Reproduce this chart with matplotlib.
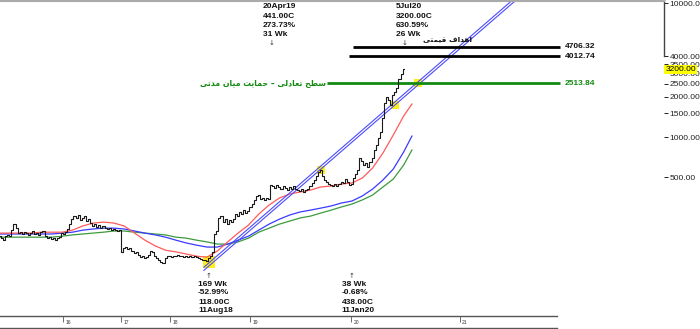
import numpy as np
import matplotlib
matplotlib.use('Agg')
import matplotlib.pyplot as plt
import matplotlib.transforms as mtransforms
from matplotlib.lines import Line2D

plt.rcParams['font.family'] = ['Liberation Sans', 'DejaVu Sans']

# ---------------- data ----------------
close = [182, 176, 170, 182, 186, 182, 202, 224, 209, 192,
         195, 189, 195, 192, 186, 192, 199, 189, 192, 186,
         195, 199, 182, 176, 179, 173, 176, 170, 176, 179,
         192, 189, 195, 206, 224, 244, 257, 249, 262, 240,
         249, 257, 236, 244, 228, 217, 224, 213, 220, 209,
         217, 209, 206, 209, 202, 206, 202, 199, 202, 139,
         148, 151, 146, 148, 141, 136, 139, 132, 127, 129,
         125, 127, 132, 141, 139, 129, 125, 121, 117, 115,
         125, 129, 129, 127, 129, 129, 132, 129, 129, 127,
         129, 127, 129, 127, 129, 127, 125, 123, 121, 120,
         118, 125, 130, 139, 189, 199, 249, 257, 232, 244,
         224, 240, 232, 244, 266, 257, 276, 266, 285, 271,
         280, 301, 316, 339, 363, 369, 345, 351, 339, 351,
         345, 441, 431, 416, 438, 424, 409, 431, 416, 402,
         424, 409, 431, 409, 402, 395, 409, 389, 402, 409,
         431, 454, 478, 512, 548, 567, 512, 478, 462, 446,
         438, 431, 446, 431, 446, 462, 454, 486, 462, 438,
         446, 494, 530, 567, 697, 662, 618, 640, 597, 651,
         697, 800, 871, 983, 1090, 1387, 1794, 1991, 1888, 1734,
         2059, 2167, 2320, 2706, 2953, 3200]

ma_idx = list(range(0, 196, 5)) + [199]
ma_red = [192, 192, 192, 192, 195, 195, 195, 202, 217, 228,
          232, 228, 217, 192, 170, 154, 143, 139, 134, 129,
          127, 141, 165, 192, 220, 266, 311, 351, 376, 389,
          402, 424, 431, 446, 454, 494, 587, 760, 1035, 1435, 1763]
ma_blue = [189, 189, 189, 189, 189, 189, 192, 195, 202, 206,
           209, 209, 206, 199, 192, 186, 179, 170, 162, 156,
           151, 151, 159, 170, 182, 202, 224, 244, 262, 276,
           285, 295, 306, 322, 333, 363, 409, 478, 577, 773, 1017]
ma_green = [179, 179, 179, 179, 179, 179, 182, 186, 189, 192,
            195, 199, 199, 195, 192, 189, 186, 179, 176, 170,
            165, 159, 159, 165, 176, 195, 209, 224, 236, 249,
            257, 271, 285, 301, 316, 339, 369, 424, 486, 618, 800]

year_pos = [30.5, 58.5, 82, 121, 169.5, 222]
year_lbl = ['16', '17', '18', '19', '20', '21']

target_levels = [4706.32, 4012.74]
target_start = [170.5, 168.6]
support_level = 2513.84
support_start = 158
level_end = 270.5

trend_idx = [100, 202]
trend_price = [106, 2450]
trend_gap = 1.055

hl_idx = [101, 155, 191, 202]
hl_price = [116, 567, 1734, 2514]

right_ticks = [500, 1000, 1500, 2000, 2500, 3000, 3500, 4000, 10000]
last_price = 3200.0

top_notes = [(131.4, ['20Apr19', '441.00C', '273.73%', '31 Wk']),
             (195.6, ['5Jul20', '3200.00C', '630.59%', '26 Wk'])]
bottom_notes = [(100.5, ['169 Wk', '-52.99%', '118.00C', '11Aug18']),
                (170.0, ['38 Wk', '-0.68%', '438.00C', '11Jan20'])]

txt_targets = 'اهداف قیمتی'
txt_support = 'سطح تعادلی – حمایت میان مدتی'

# ---------------- Persian shaping helper ----------------
FORMS = {
    'ا': ('\uFE8D', '\uFE8E', None, None),
    'د': ('\uFEA9', '\uFEAA', None, None),
    'ه': ('\uFEE9', '\uFEEA', '\uFEEB', '\uFEEC'),
    'ف': ('\uFED1', '\uFED2', '\uFED3', '\uFED4'),
    'ق': ('\uFED5', '\uFED6', '\uFED7', '\uFED8'),
    'ی': ('\uFBFC', '\uFBFD', '\uFBFE', '\uFBFF'),
    'م': ('\uFEE1', '\uFEE2', '\uFEE3', '\uFEE4'),
    'ت': ('\uFE95', '\uFE96', '\uFE97', '\uFE98'),
    'س': ('\uFEB1', '\uFEB2', '\uFEB3', '\uFEB4'),
    'ط': ('\uFEC1', '\uFEC2', '\uFEC3', '\uFEC4'),
    'ح': ('\uFEA1', '\uFEA2', '\uFEA3', '\uFEA4'),
    'ع': ('\uFEC9', '\uFECA', '\uFECB', '\uFECC'),
    'ل': ('\uFEDD', '\uFEDE', '\uFEDF', '\uFEE0'),
    'ن': ('\uFEE5', '\uFEE6', '\uFEE7', '\uFEE8'),
}


def shape_fa(s):
    out = []
    n = len(s)
    for k, c in enumerate(s):
        if c not in FORMS:
            out.append(c)
            continue
        iso, fin, ini, med = FORMS[c]
        p = s[k - 1] if k > 0 else ''
        nx = s[k + 1] if k + 1 < n else ''
        pj = p in FORMS and FORMS[p][2] is not None
        nj = nx in FORMS and ini is not None
        if pj and nj:
            out.append(med)
        elif pj:
            out.append(fin)
        elif nj:
            out.append(ini)
        else:
            out.append(iso)
    return ''.join(reversed(out))


# ---------------- figure ----------------
W, H = 700, 329
fig = plt.figure(figsize=(7, 3.29), dpi=100)
ax = fig.add_axes([0, 13 / H, 664 / W, 316 / H])
ax.set_yscale('log')
ax.set_ylim(46.2, 10530)
ax.set_xlim(0, 664 / 2.07)
ax.patch.set_alpha(0)

for s in ['left', 'top']:
    ax.spines[s].set_visible(False)
ax.spines['right'].set_bounds(4000, 10530)
ax.spines['right'].set_color('#444444')
ax.spines['right'].set_linewidth(1.0)
ax.spines['bottom'].set_bounds(0, 557 / 2.07)
ax.spines['bottom'].set_color('#555555')
ax.spines['bottom'].set_linewidth(1.0)

ax.yaxis.tick_right()
ax.yaxis.set_minor_locator(matplotlib.ticker.NullLocator())
ax.set_yticks(right_ticks)
ax.set_yticklabels([f'{v:.2f}' for v in right_ticks])
ax.tick_params(axis='y', length=3, width=0.7, pad=1, labelsize=6,
               colors='#222222')

ax.set_xticks(year_pos)
ax.set_xticklabels([])
ax.tick_params(axis='x', length=4, width=0.6, colors='#555555')
xtr = ax.get_xaxis_transform()
for p, l in zip(year_pos, year_lbl):
    ax.text(p + 1.2, -0.022, l, transform=xtr, fontsize=3.6,
            ha='left', va='center', color='#333333')

# yellow highlights
ax.scatter(hl_idx[:1], hl_price[:1], marker='s', s=70, color='#ffee00',
           alpha=0.9, linewidths=0, zorder=1)
ax.scatter(hl_idx[1:], hl_price[1:], marker='s', s=40, color='#ffee00',
           alpha=0.9, linewidths=0, zorder=1)

# moving averages
ax.plot(ma_idx, ma_green, color='#3c9a3c', lw=0.9, zorder=2)
ax.plot(ma_idx, ma_blue, color='#3a3aff', lw=0.9, zorder=2)
ax.plot(ma_idx, ma_red, color='#ff5a5a', lw=0.9, zorder=2)

# price
bars = np.arange(len(close))
ax.plot(bars, close, drawstyle='steps-mid', color='#1a1a1a', lw=0.8, zorder=4)

# trend channel (two lines, straight on the log chart)
lx = np.array([trend_idx[0] - 1.5, 330.0])
lg = np.log(trend_price)
ly = np.exp(lg[0] + (lg[1] - lg[0]) * (lx - trend_idx[0]) / (trend_idx[1] - trend_idx[0]))
ax.plot(lx, ly, color='#4a4aff', lw=0.8, zorder=3)
ax.plot(lx, ly * trend_gap, color='#4a4aff', lw=0.8, zorder=3)

# horizontal levels
for lvl, st in zip(target_levels, target_start):
    ax.hlines(lvl, st, level_end, color='black', lw=2, zorder=3)
    ax.text(level_end + 2.4, lvl, f'{lvl:.2f}', fontsize=6, fontweight='bold',
            va='center', ha='left', color='#111111')
ax.hlines(support_level, support_start, level_end, color='#128a12', lw=2, zorder=3)
ax.text(level_end + 2.4, support_level, f'{support_level:.2f}', fontsize=6,
        fontweight='bold', va='center', ha='left', color='#128a12')

ax.text(support_start - 0.3, support_level * 1.005, shape_fa(txt_support),
        fontsize=5.6, fontweight='bold', color='#128a12', ha='right',
        va='center', family=['DejaVu Sans'])
fig.text(423 / W, 1 - 39 / H, shape_fa(txt_targets), fontsize=5.3,
         fontweight='bold', color='#111111', ha='left', va='center',
         family=['DejaVu Sans'])

# last price box
ytr = mtransforms.blended_transform_factory(ax.transAxes, ax.transData)
ax.text(1.0 + 1.5 / 664, last_price, f'{last_price:.2f}', transform=ytr,
        fontsize=6, ha='left', va='center', color='black', zorder=6,
        bbox=dict(facecolor='#ffff00', edgecolor='none', pad=0.9))

# annotations
ax_to_fig = lambda i: ax.transData.transform((i, 100))[0] / W
for i, lines in top_notes:
    xf = ax_to_fig(i)
    for k, t in enumerate(lines):
        fig.text(xf - 9 / W, 1 - (7 + 9.3 * k) / H, t, fontsize=6,
                 fontweight='bold', ha='left', va='center', color='#111111')
    fig.text(xf, 1 - 43 / H, '↓', fontsize=5, ha='center', va='center',
             family=['DejaVu Sans'], color='#333333')
for i, lines in bottom_notes:
    xf = ax_to_fig(i)
    fig.text(xf, 1 - 276 / H, '↑', fontsize=5, ha='center', va='center',
             family=['DejaVu Sans'], color='#333333')
    for k, t in enumerate(lines):
        fig.text(xf - 10 / W, 1 - (284 + 9 * k) / H, t, fontsize=6,
                 fontweight='bold', ha='left', va='center', color='#111111')

# frame lines
fig.add_artist(Line2D([0, 664 / W], [1 - 0.6 / H, 1 - 0.6 / H],
                      color='#aaaaaa', lw=1.5, transform=fig.transFigure))
fig.add_artist(Line2D([0, 557 / W], [1.2 / H, 1.2 / H],
                      color='#555555', lw=1.0, transform=fig.transFigure))

fig.savefig('out.png', dpi=100)
